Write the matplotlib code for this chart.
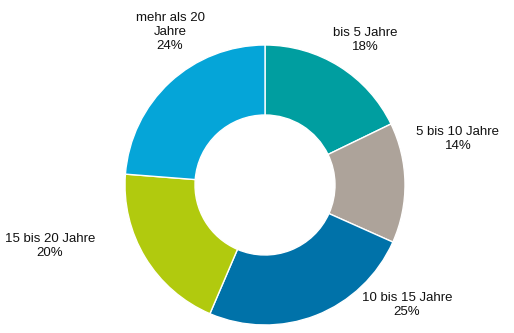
import matplotlib
matplotlib.use("Agg")
import matplotlib.pyplot as plt

categories = ["bis 5 Jahre", "5 bis 10 Jahre", "10 bis 15 Jahre", "15 bis 20 Jahre", "mehr als 20\nJahre"]
values = [18, 14, 25, 20, 24]
colors = ["#009EA0", "#ADA39A", "#0072A9", "#B1CA0E", "#05A5D8"]

# label anchor positions in pixel coordinates (layout only)
label_pos = [(365, 40), (458, 139), (407, 305), (50, 246), (170, 32)]

W, H = 514, 333
fig = plt.figure(figsize=(W / 100, H / 100), dpi=100)
ax = fig.add_axes([0, 0, 1, 1])

cx, cy, R = 265, H - 185, 140
ax.pie(values, colors=colors, startangle=90, counterclock=False,
       center=(cx, cy), radius=R, frame=True,
       wedgeprops=dict(width=70, edgecolor="white", linewidth=1))
ax.set_xlim(0, W)
ax.set_ylim(0, H)
ax.set_aspect("equal")
ax.axis("off")

for cat, v, (px, py) in zip(categories, values, label_pos):
    ax.text(px, H - py, f"{cat}\n{v}%", ha="center", va="center",
            fontsize=9.5, family="Liberation Sans", color="#111111",
            linespacing=1.25)

fig.savefig("out.png", dpi=100)
